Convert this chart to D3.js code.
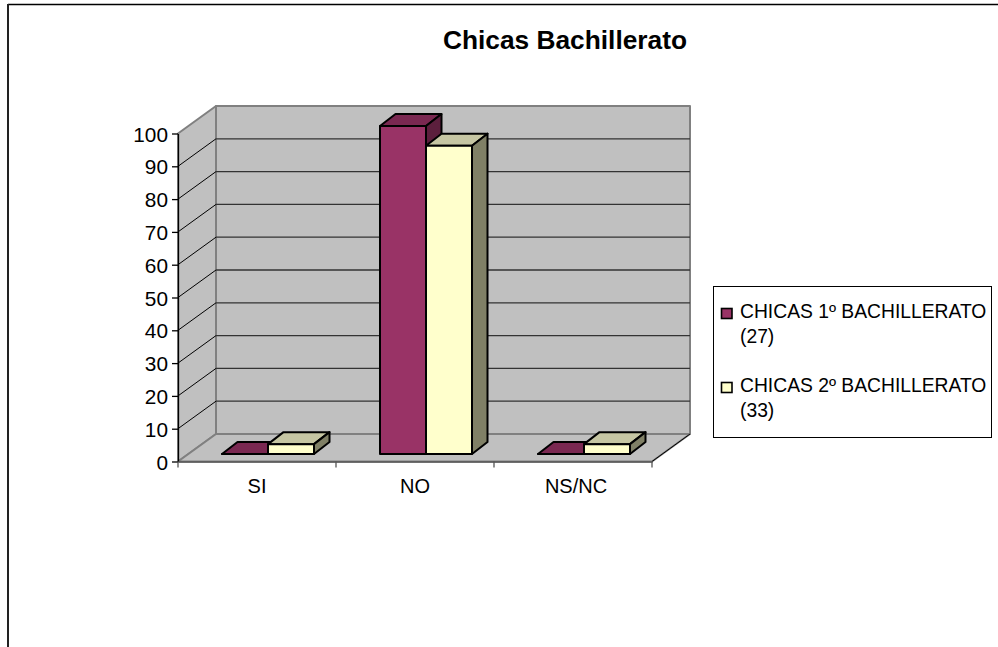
<!DOCTYPE html>
<html><head><meta charset="utf-8">
<script src="https://cdnjs.cloudflare.com/ajax/libs/d3/7.8.5/d3.min.js"></script>
<style>html,body{margin:0;padding:0;background:#fff}svg{display:block}text{font-family:"Liberation Sans",Arial,sans-serif;fill:#000}</style>
</head><body><div id="c"></div>
<script>
const categories=["SI","NO","NS/NC"];
const seriesNames=["CHICAS 1º BACHILLERATO","CHICAS 2º BACHILLERATO"];
const seriesNotes=["(27)","(33)"];
const series1=[0,100,0];
const series2=[3,94,3];
const yTicks=[0,10,20,30,40,50,60,70,80,90,100];
const title="Chicas Bachillerato";
const front=["#993366","#FFFFCC"],top_=["#7A2851","#C6C6A3"],side=["#5C1F3D","#808066"];

const svg=d3.select("#c").append("svg").attr("width",998).attr("height",647);
const pl=178,pr=652,py0=461.5,py1=133.5,dx=38,dy=-27.5;
const x=d3.scaleBand().domain(categories).range([pl,pr]);
const y=d3.scaleLinear().domain([0,100]).range([py0,py1]);
const inner=d3.scaleBand().domain([0,1]).range([44,136]);
const line=(a,b,c,d,col,w)=>svg.append("line").attr("x1",a).attr("y1",b).attr("x2",c).attr("y2",d).attr("stroke",col).attr("stroke-width",w);
const poly=(p,f,s,w)=>svg.append("polygon").attr("points",p.map(q=>q.join(",")).join(" ")).attr("fill",f).attr("stroke",s||"none").attr("stroke-width",w||0).attr("stroke-linejoin","round");

// outer frame: top and left edges only
svg.append("line").attr("x1",8).attr("y1",4.5).attr("x2",998).attr("y2",4.5).attr("stroke","#000").attr("stroke-width",1.5);
svg.append("line").attr("x1",8).attr("y1",4).attr("x2",8).attr("y2",647).attr("stroke","#222").attr("stroke-width",2);

svg.append("text").attr("x",565).attr("y",49).attr("text-anchor","middle").attr("font-size",26.3).attr("font-weight","bold").text(title);

// walls
const G="#C0C0C0",W="#808080";
poly([[pl+dx,py1+dy],[pr+dx,py1+dy],[pr+dx,py0+dy],[pl+dx,py0+dy]],G,W,2);
poly([[pl,py1],[pl+dx,py1+dy],[pl+dx,py0+dy],[pl,py0]],G,W,2);
poly([[pl,py0],[pl+dx,py0+dy],[pr+dx,py0+dy],[pr,py0]],G,W,2);
yTicks.slice(1,-1).forEach(t=>{
  line(pl,y(t),pl+dx,y(t)+dy,"#000",1);
  line(pl+dx,y(t)+dy,pr+dx,y(t)+dy,"#333",1.3);
});
line(pr,py0,pr+dx,py0+dy,"#000",1);

// axes
const yAxis=d3.axisLeft(y).tickValues(yTicks).tickSize(6).tickSizeOuter(0).tickPadding(4);
const ya=svg.append("g").attr("transform",`translate(${pl},0)`).call(yAxis);
ya.selectAll("text").attr("font-size",20.8).attr("font-family","Liberation Sans").attr("dy","0.36em");
ya.selectAll("line,path").attr("stroke","#000").attr("stroke-width",1.3);
const xAxis=d3.axisBottom(x).tickSize(0).tickPadding(17);
const xa=svg.append("g").attr("transform",`translate(0,${py0})`).call(xAxis);
xa.selectAll("text").attr("font-size",20).attr("font-family","Liberation Sans").attr("dy","0.71em").attr("dx",(d,i)=>i===2?3:0);
xa.select("path").attr("stroke","#555").attr("stroke-width",1.3);
[...categories.map(c=>x(c)),pr].forEach(v=>line(v,py0,v,py0+6,"#555",1.3));

// bars
const bd=15.5,bh=-12,y0b=454;
const h=v=>(py0-y(v));
const all=[series1,series2];
categories.forEach((c,i)=>{
  all.forEach((s,k)=>{
    const xl=x(c)+inner(k),w=inner.bandwidth(),yt=y0b-h(s[i]);
    poly([[xl,yt],[xl+w,yt],[xl+w+bd,yt+bh],[xl+bd,yt+bh]],top_[k],"#000",2);
    poly([[xl+w,yt],[xl+w+bd,yt+bh],[xl+w+bd,y0b+bh],[xl+w,y0b]],side[k],"#000",2);
    poly([[xl,yt],[xl+w,yt],[xl+w,y0b],[xl,y0b]],front[k],"#000",2);
  });
});

// legend
svg.append("rect").attr("x",713.5).attr("y",286.5).attr("width",278).attr("height",151).attr("fill","#fff").attr("stroke","#000").attr("stroke-width",1);
const ly=[318,392];
seriesNames.forEach((n,k)=>{
  svg.append("rect").attr("x",721.5).attr("y",ly[k]-9.5).attr("width",10.5).attr("height",10).attr("fill",front[k]).attr("stroke","#000").attr("stroke-width",1.6);
  svg.append("text").attr("x",740).attr("y",ly[k]).attr("font-size",19.3).text(n);
  svg.append("text").attr("x",740).attr("y",ly[k]+25).attr("font-size",19.3).text(seriesNotes[k]);
});
</script></body></html>
